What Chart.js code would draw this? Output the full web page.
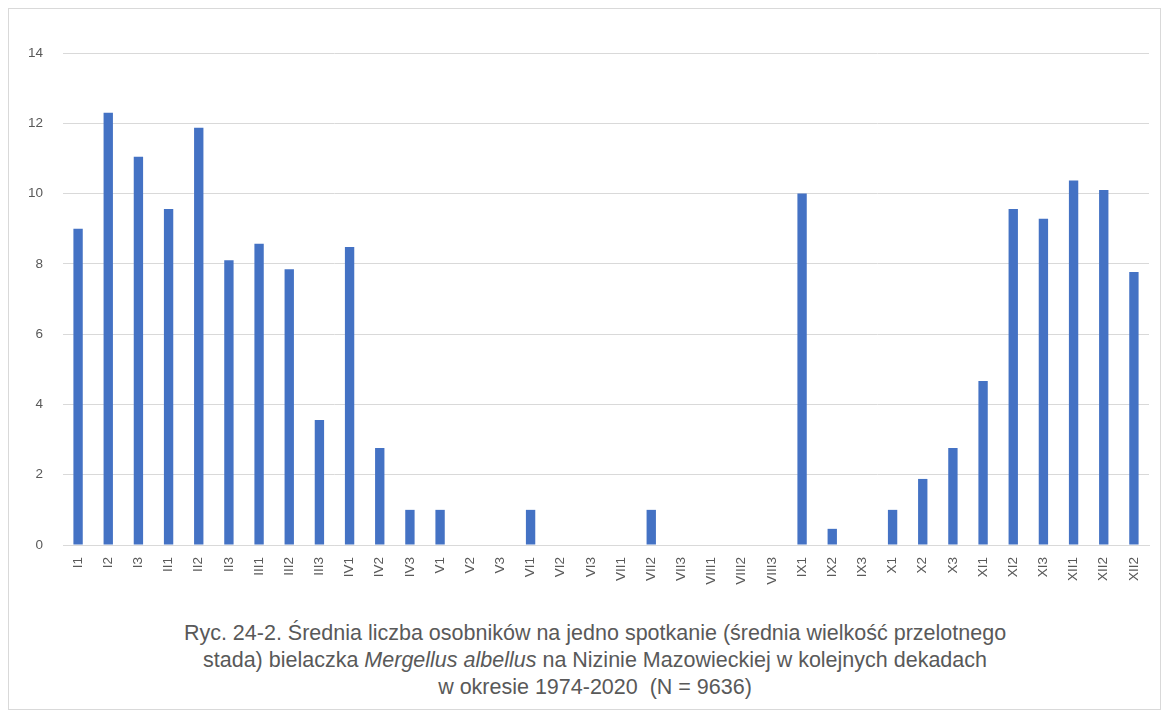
<!DOCTYPE html>
<html>
<head>
<meta charset="utf-8">
<script src="https://cdn.jsdelivr.net/npm/chart.js@4"></script>
<style>
  body { margin: 0; background: #ffffff; }
  #frame { position: absolute; left: 8px; top: 8px; width: 1151px; height: 700px; border: 1px solid #d9d9d9; }
  #wrap { position: absolute; left: 0; top: 0; width: 1169px; height: 605px; }
  #caption { position: absolute; left: 0; top: 620px; width: 1190px; text-align: center;
    font-family: "Liberation Sans", sans-serif; font-size: 21.5px; line-height: 27px; color: #595959; }
</style>
</head>
<body>
<div id="frame"></div>
<div id="wrap"><canvas id="myChart"></canvas></div>
<div id="caption">Ryc. 24-2. Średnia liczba osobników na jedno spotkanie (średnia wielkość przelotnego<br>stada) bielaczka <i>Mergellus albellus</i> na Nizinie Mazowieckiej w kolejnych dekadach<br>w okresie 1974-2020&nbsp; (N = 9636)</div>
<script>
var decades = ["I1","I2","I3","II1","II2","II3","III1","III2","III3","IV1","IV2","IV3",
  "V1","V2","V3","VI1","VI2","VI3","VII1","VII2","VII3","VIII1","VIII2","VIII3",
  "IX1","IX2","IX3","X1","X2","X3","XI1","XI2","XI3","XII1","XII2","XII2"];

var meanFlock = [9.0, 12.3, 11.05, 9.56, 11.87, 8.1, 8.57, 7.85, 3.56, 8.48, 2.76, 1.0,
  1.0, 0, 0, 1.0, 0, 0, 0, 1.0, 0, 0, 0, 0,
  10.0, 0.46, 0, 1.0, 1.88, 2.76, 4.67, 9.56, 9.28, 10.37, 10.1, 7.77];

var yTicks = [0, 2, 4, 6, 8, 10, 12, 14];

var myChart = new Chart("myChart", {
  type: "bar",
  data: {
    labels: decades,
    datasets: [{
      data: meanFlock,
      backgroundColor: "#4472C4",
      barPercentage: 0.31,
      categoryPercentage: 1.0,
    }],
  },
  options: {
    responsive: true,
    maintainAspectRatio: false,
    animation: false,
    layout: { padding: { top: 53, right: 20, left: 0, bottom: 0 } },
    plugins: { legend: { display: false }, tooltip: { enabled: false } },
    scales: {
      x: {
        grid: { display: false },
        border: { color: "#d9d9d9" },
        ticks: {
          color: "#595959",
          font: { family: "Liberation Sans", size: 13.5 },
          minRotation: 90,
          maxRotation: 90,
          autoSkip: false,
          padding: 4,
        },
        afterFit: function (scale) { scale.height = 60; },
      },
      y: {
        min: 0,
        max: 14,
        afterBuildTicks: function (scale) { scale.ticks = yTicks.map(function (v) { return { value: v }; }); },
        grid: { color: "#d9d9d9", drawTicks: false },
        border: { display: false },
        ticks: {
          color: "#595959",
          font: { family: "Liberation Sans", size: 13.5 },
          padding: 20,
        },
        afterFit: function (scale) { scale.width = 63; },
      },
    },
  },
});
</script>
</body>
</html>
